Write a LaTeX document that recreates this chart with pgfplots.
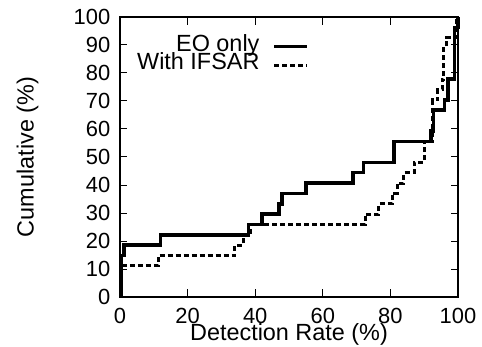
\documentclass[border=0pt]{standalone}
\usepackage{fontspec}
\setmainfont{Liberation Sans}
\usepackage{pgfplots}
\pgfplotsset{compat=1.18}
\begin{document}
\begin{tikzpicture}
\begin{axis}[
  scale only axis,
  width=338bp, height=280bp,
  xmin=0, xmax=100, ymin=0, ymax=100,
  xtick={0,20,...,100}, ytick={0,10,...,100},
  clip=false,
  axis line style={line width=1.5bp},
  tick align=inside,
  major tick length=7.5bp,
  every tick/.style={black, line width=1bp},
  /pgf/number format/assume math mode=true,
  tick label style={font=\fontsize{22}{22}\selectfont, inner sep=0pt},
  yticklabel style={anchor=east, xshift=-9.5bp},
  xticklabel style={anchor=north, yshift=-11bp},
  label style={font=\fontsize{23.5}{24}\selectfont, inner sep=0pt},
  xlabel={Detection Rate (\%)},
  ylabel={Cumulative (\%)},
  xlabel style={at={(axis description cs:0.5,-0.1536)}, anchor=base},
  ylabel style={at={(axis description cs:-0.2559,0.5)}, anchor=base, rotate=0},
  legend plot pos=right,
  legend cell align=right,
  legend style={at={(axis description cs:0.559,0.927)}, anchor=north east,
    draw=none, fill=none, inner sep=0pt, outer sep=0pt,
    font=\fontsize{23.5}{24}\selectfont,
    nodes={inner sep=0pt, text height=14bp, text depth=4.4bp},
    row sep=0pt,
    /tikz/every odd column/.append style={column sep=13bp}},
  legend image code/.code={\draw[#1] (0bp,0bp) -- (33bp,0bp);},
]
\addplot[black, line width=3.5bp, line cap=butt, line join=miter] coordinates {
(0.4,0) (0.4,14.8) (1.2,14.8) (1.2,18.5) (12,18.5) (12,22.2) (38,22.2) (38,25.9)
(42,25.9) (42,29.6) (47,29.6) (47,33.3) (48,33.3) (48,37) (55,37) (55,40.7)
(69,40.7) (69,44.4) (72,44.4) (72,48.1) (81,48.1) (81,55.6) (92,55.6) (92,59.3)
(92.7,59.3) (92.7,66.7) (96,66.7) (96,70.4) (97,70.4) (97,77.8) (99,77.8) (99,96.3)
(100,96.3) (100,100)
};
\addlegendentry{EO only}
\addplot[black, line width=3bp, dash pattern=on 5bp off 3bp, line cap=butt, line join=miter] coordinates {
(0.3,0) (0.3,11.1) (11.3,11.1) (11.3,14.8) (34,14.8) (34,18.5) (36.5,18.5) (36.5,22.2)
(38.5,22.2) (38.5,25.9) (72.5,25.9) (72.5,29.6) (76.5,29.6) (76.5,33.3) (80.5,33.3) (80.5,37)
(82,37) (82,40.7) (84,40.7) (84,44.4) (87,44.4) (87,48.1) (90,48.1) (90,55.6)
(92.5,55.6) (92.5,70.4) (94,70.4) (94,74.1) (95.3,74.1) (95.3,77.8) (95.8,77.8) (95.8,88.9)
(96.5,88.9) (96.5,92.6) (99.5,92.6) (99.5,100)
};
\addlegendentry{With IFSAR}
\end{axis}
\pgfresetboundingbox
\useasboundingbox (-120bp,-50bp) rectangle (362bp,297bp);
\end{tikzpicture}
\end{document}
